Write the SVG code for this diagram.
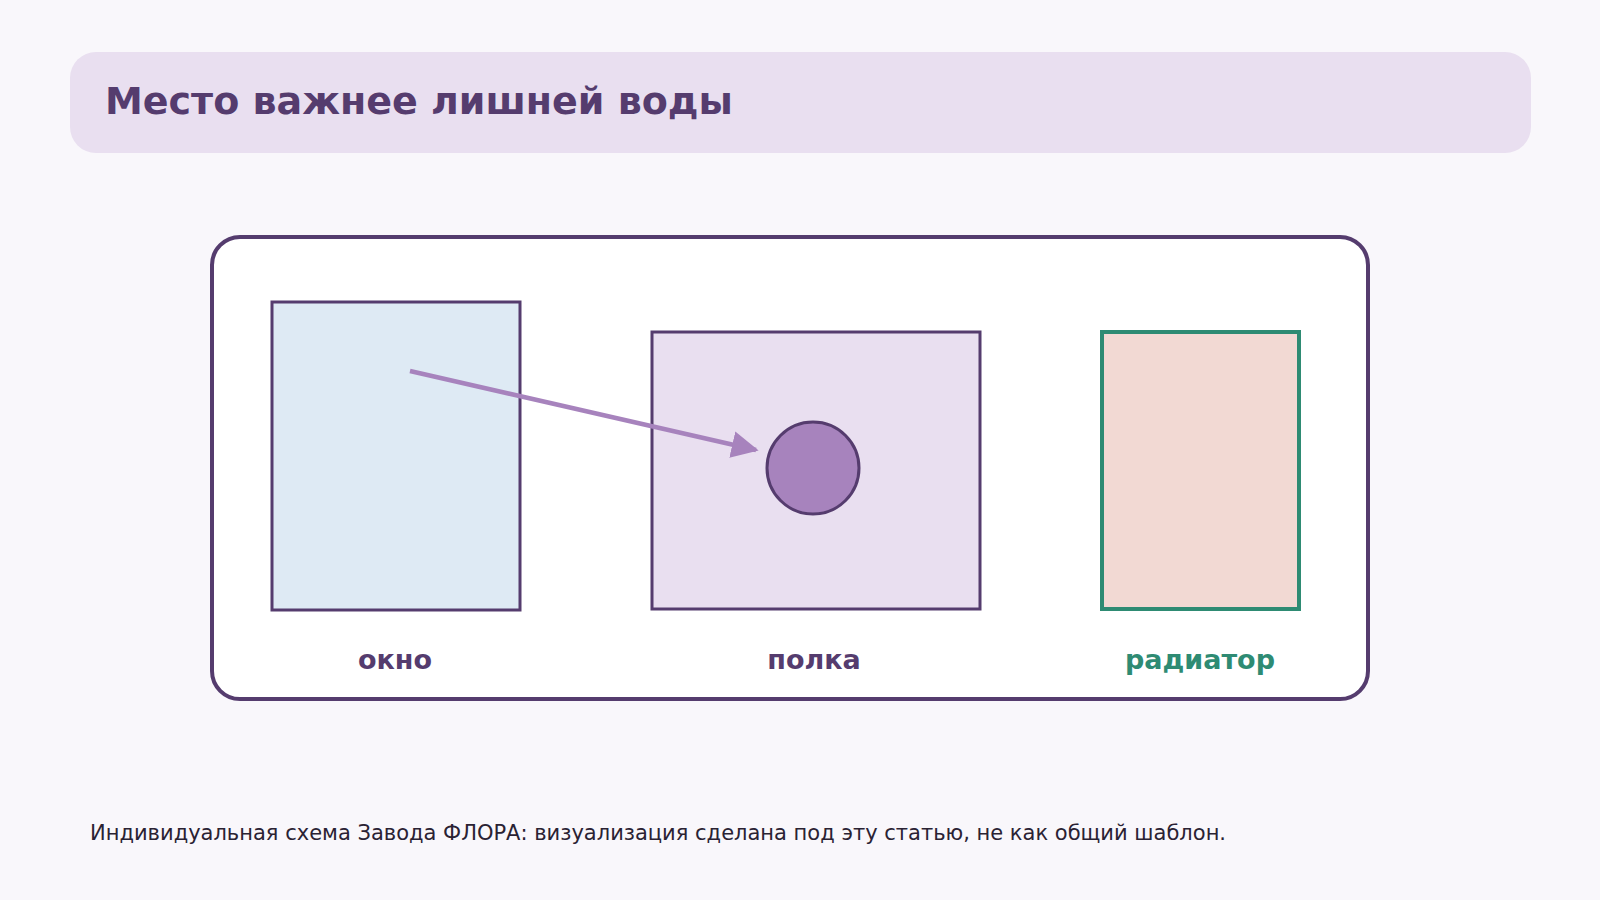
<svg xmlns="http://www.w3.org/2000/svg" width="1600" height="900" viewBox="0 0 1600 900">
<style>
.node{stroke:#553c6e;stroke-width:3}
.lbl{font-family:"DejaVu Sans","Liberation Sans",sans-serif;font-weight:bold;font-size:27px;text-anchor:middle;fill:#553c6e}
</style>
<defs>
<marker id="ah" viewBox="0 0 10 10" refX="9" refY="5" markerWidth="6" markerHeight="6" orient="auto" markerUnits="strokeWidth">
<path d="M0,0 L10,5 L0,10 z" fill="#a783bd"/>
</marker>
</defs>
<rect width="1600" height="900" fill="#f9f7fb"/>
<g id="header">
<rect x="70" y="52" width="1461" height="101" rx="26" fill="#e9dff0"/>
<text x="105" y="114" font-family="DejaVu Sans, Liberation Sans, sans-serif" font-weight="bold" font-size="38" fill="#553c6e">Место важнее лишней воды</text>
</g>
<g id="frame">
<rect x="212" y="237" width="1156" height="462" rx="28" fill="#ffffff" stroke="#553c6e" stroke-width="4"/>
</g>
<g id="okno">
<rect class="node" x="272" y="302" width="248" height="308" fill="#deeaf4"/>
<text class="lbl" x="395" y="669">окно</text>
</g>
<g id="polka">
<rect class="node" x="652" y="332" width="328" height="277" fill="#e9dff0"/>
<text class="lbl" x="814" y="669">полка</text>
</g>
<g id="plant">
<circle class="node" cx="813" cy="468" r="46" fill="#a783bd"/>
</g>
<g id="radiator">
<rect x="1102" y="332" width="197" height="277" fill="#f2d9d3" stroke="#2e8b73" stroke-width="4"/>
<text class="lbl" x="1200" y="669" style="fill:#2e8b73">радиатор</text>
</g>
<g id="connectors">
<line x1="410" y1="371" x2="756" y2="450" stroke="#a783bd" stroke-width="4.5" marker-end="url(#ah)"/>
</g>
<text x="90" y="840" font-family="DejaVu Sans, Liberation Sans, sans-serif" font-size="21" fill="#2a2233">Индивидуальная схема Завода ФЛОРА: визуализация сделана под эту статью, не как общий шаблон.</text>
</svg>
